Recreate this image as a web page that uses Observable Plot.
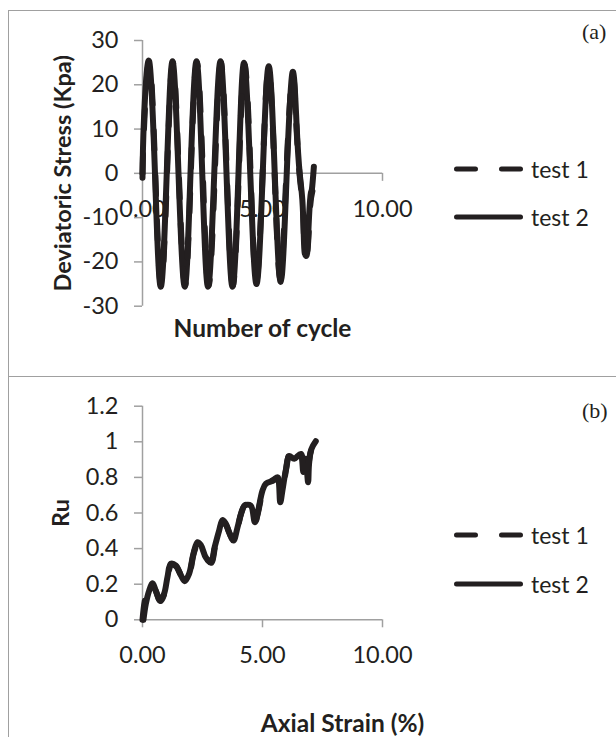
<!DOCTYPE html>
<html><head><meta charset="utf-8">
<script src="https://cdn.jsdelivr.net/npm/d3@7"></script>
<script src="https://cdn.jsdelivr.net/npm/@observablehq/plot@0.6"></script>
<style>
body{margin:0;background:#fff;}
#wrap{position:relative;width:616px;height:737px;overflow:hidden;font-family:Lato,sans-serif;color:#231f20;}
.panel{position:absolute;left:8px;width:660px;border:1.5px solid #a0a0a0;box-sizing:border-box;}
.plot{position:absolute;left:0;}
.plot svg{overflow:visible;}
.leg{position:absolute;left:450px;height:30px;}
.leg svg{position:absolute;left:0;top:9px;}
.leg span{position:absolute;left:81px;top:0;font-size:23px;line-height:30px;white-space:nowrap;}
.tag{position:absolute;left:582px;font-family:"Liberation Serif",serif;font-size:22px;line-height:24px;}
</style></head>
<body>
<div id="wrap">
  <div class="panel" style="top:10px;height:367px;"></div>
  <div class="panel" style="top:375.5px;height:420px;"></div>
  <div id="plotA" class="plot" style="top:0;"></div>
  <div id="plotB" class="plot" style="top:376px;"></div>
  <div class="tag" style="top:20px;">(a)</div>
  <div class="tag" style="top:399px;">(b)</div>
  <div id="legA1" class="leg" style="top:154px;"></div>
  <div id="legA2" class="leg" style="top:202px;"></div>
  <div id="legB1" class="leg" style="top:520px;"></div>
  <div id="legB2" class="leg" style="top:569px;"></div>
</div>
<script>
// ---- data ----
const seriesNames = ["test 1", "test 2"];

const stressCycle1 = [0, 0.07, 0.29, 0.53, 0.77, 1.02, 1.26, 1.51, 1.77, 2.01, 2.26, 2.51, 2.75, 3.01, 3.26, 3.51, 3.76, 4.01, 4.25, 4.50, 4.74, 5.00, 5.25, 5.50, 5.74, 5.99, 6.24, 6.40, 6.54, 6.64, 6.70, 6.76, 6.88, 6.98, 7.08];
const stress1      = [0, 11, 25, 0.5, -25.3, -0.5, 25, 0.5, -25.3, -0.5, 25, 0.5, -25.3, -0.5, 25, 0.5, -25.3, -0.5, 24.5, 0.5, -24.3, -0.5, 23.5, 0.5, -23.8, -0.5, 22, 12, 0, -5, -10, -17, -17, -8, -4];

const stressCycle2 = [0, 0.06, 0.28, 0.52, 0.76, 1.01, 1.25, 1.50, 1.76, 2.00, 2.25, 2.49, 2.73, 2.99, 3.25, 3.50, 3.75, 4.00, 4.23, 4.49, 4.75, 5.01, 5.26, 5.51, 5.76, 6.01, 6.25, 6.42, 6.55, 6.66, 6.72, 6.76, 6.86, 6.92, 7.00, 7.06, 7.14];
const stress2      = [-1, 12, 25.3, 0, -25.6, 0, 25.3, 0, -25.6, 0, 25.3, 0, -25.6, 0, 25.3, 0, -25.6, 0, 25, 0, -25, 0, 24.2, 0, -24.5, 0, 22.8, 11, 0, -6, -14, -18, -18, -12, -5, -3.5, 1.5];

const strain1 = [0.0, 0.10, 0.25, 0.40, 0.56, 0.75, 0.92, 1.06, 1.20, 1.40, 1.62, 1.78, 1.96, 2.14, 2.31, 2.45, 2.66, 2.86, 3.03, 3.20, 3.35, 3.49, 3.63, 3.80, 3.98, 4.12, 4.28, 4.52, 4.69, 4.81, 5.02, 5.16, 5.44, 5.64, 5.78, 5.86, 5.99, 6.13, 6.34, 6.58, 6.70, 6.76, 6.86, 6.92, 7.02, 7.20];
const ru1     = [0, 0.11, 0.18, 0.2, 0.16, 0.105, 0.15, 0.245, 0.31, 0.30, 0.245, 0.215, 0.26, 0.375, 0.43, 0.41, 0.345, 0.32, 0.415, 0.505, 0.55, 0.53, 0.485, 0.44, 0.525, 0.6, 0.645, 0.635, 0.545, 0.6, 0.73, 0.77, 0.785, 0.80, 0.70, 0.74, 0.85, 0.93, 0.90, 0.94, 0.83, 0.93, 0.85, 0.88, 0.95, 0.99];

const strain2 = [0.04, 0.14, 0.28, 0.42, 0.55, 0.73, 0.90, 1.04, 1.18, 1.39, 1.60, 1.76, 1.94, 2.12, 2.29, 2.43, 2.64, 2.85, 3.01, 3.19, 3.33, 3.47, 3.61, 3.79, 3.96, 4.10, 4.26, 4.51, 4.68, 4.79, 5.00, 5.14, 5.42, 5.62, 5.74, 5.83, 5.97, 6.11, 6.32, 6.60, 6.74, 6.80, 6.90, 6.94, 7.04, 7.22];
const ru2     = [0, 0.09, 0.165, 0.205, 0.165, 0.108, 0.146, 0.24, 0.315, 0.305, 0.25, 0.217, 0.258, 0.37, 0.436, 0.42, 0.35, 0.324, 0.41, 0.50, 0.56, 0.54, 0.49, 0.445, 0.52, 0.595, 0.642, 0.642, 0.548, 0.595, 0.726, 0.764, 0.78, 0.79, 0.66, 0.726, 0.84, 0.92, 0.905, 0.932, 0.84, 0.905, 0.773, 0.876, 0.96, 1.003];

const xTickValues = [0, 5, 10];
const xTickLabels = ["0.00", "5.00", "10.00"];
const stressTicks = [-30, -20, -10, 0, 10, 20, 30];
const ruTicks = [0, 0.2, 0.4, 0.6, 0.8, 1, 1.2];

// ---- styling ----
const INK = "#231f20", GRID = "#a0a0a0", DASH = "19,26";
const toRows = (xs, ys) => xs.map((x, i) => ({x, y: ys[i]}));

function panel({rows1, rows2, yDomain, yTicks, height, marginTop, marginBottom, yTitle, yTitleDx, xTitle, xTitleDx, xTitleDy, curve}) {
  return Plot.plot({
    width: 616, height, marginLeft: 142, marginRight: 234, marginTop, marginBottom,
    style: {fontFamily: "Lato, sans-serif", color: INK, background: "transparent", overflow: "visible"},
    x: {domain: [0, 10], axis: null},
    y: {domain: yDomain},
    marks: [
      Plot.ruleX([0], {stroke: GRID, strokeWidth: 1.5}),
      Plot.ruleY([0], {stroke: GRID, strokeWidth: 1.5}),
      Plot.ruleX(xTickValues, {x: d => d, y1: 0, y2: 0, insetBottom: -8, stroke: GRID, strokeWidth: 1.5}),
      Plot.axisY(yTicks, {tickSize: 8, tickPadding: 16, fontSize: 23.5, stroke: GRID, strokeWidth: 1.5, fill: INK, label: null, tickFormat: d => String(d)}),
      Plot.text(xTickValues, {x: d => d, y: 0, dy: 36, text: (d, i) => xTickLabels[i], fontSize: 23.5, fill: INK}),
      Plot.text([yTitle], {frameAnchor: "left", rotate: -90, dx: yTitleDx, text: d => d, textAnchor: "middle", lineAnchor: "middle", fontSize: 23.5, fontWeight: "bold", fill: INK}),
      Plot.text([xTitle], {frameAnchor: "bottom", dx: xTitleDx, dy: xTitleDy, text: d => d, textAnchor: "middle", lineAnchor: "middle", fontSize: 24.5, fontWeight: "bold", fill: INK}),
      Plot.line(rows2, {x: "x", y: "y", stroke: INK, strokeWidth: 6, curve, strokeLinecap: "round", strokeLinejoin: "round"}),
      Plot.line(rows1, {x: "x", y: "y", stroke: INK, strokeWidth: 6, curve, strokeDasharray: DASH, strokeLinecap: "round", strokeLinejoin: "round"})
    ]
  });
}

document.getElementById("plotA").append(panel({
  rows1: toRows(stressCycle1, stress1), rows2: toRows(stressCycle2, stress2),
  yDomain: [-30, 30], yTicks: stressTicks, height: 376, marginTop: 40, marginBottom: 70.3,
  yTitle: "Deviatoric Stress (Kpa)", yTitleDx: -79,
  xTitle: "Number of cycle", xTitleDx: 0, xTitleDy: 23, curve: "natural"
}));

document.getElementById("plotB").append(panel({
  rows1: toRows(strain1, ru1), rows2: toRows(strain2, ru2),
  yDomain: [0, 1.2], yTicks: ruTicks, height: 361, marginTop: 29.7, marginBottom: 117.7,
  yTitle: "Ru", yTitleDx: -81,
  xTitle: "Axial Strain (%)", xTitleDx: 80, xTitleDy: 104, curve: "catmull-rom"
}));

// ---- legends ----
function legend(id, i) {
  const el = document.getElementById(id);
  const dash = i === 0 ? ` stroke-dasharray="${DASH}"` : "";
  el.innerHTML = `<svg width="80" height="12"><line x1="6.5" x2="70.5" y1="6" y2="6" stroke="${INK}" stroke-width="5" stroke-linecap="round"${dash}/></svg><span>${seriesNames[i]}</span>`;
}
legend("legA1", 0); legend("legA2", 1); legend("legB1", 0); legend("legB2", 1);
</script>
</body></html>
